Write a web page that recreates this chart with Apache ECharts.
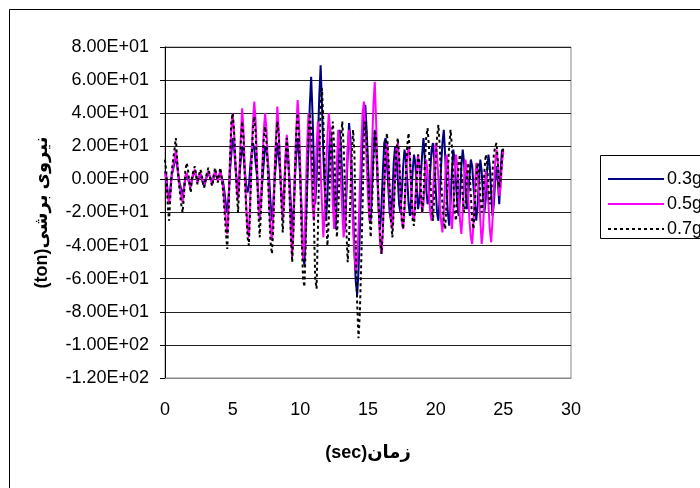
<!DOCTYPE html>
<html><head><meta charset="utf-8">
<script src="https://cdn.jsdelivr.net/npm/echarts@6/dist/echarts.min.js"></script>
<style>html,body{margin:0;padding:0;background:#fff}#c{width:700px;height:488px}</style>
</head><body><div id="c"></div>
<script>
// sample time step (s), samples start at t = 0
const tStep = 0.1;
const seriesNames = ['0.3g', '0.5g', '0.7g'];
const xTicks = [0, 5, 10, 15, 20, 25, 30];
const yTicks = [-120, -100, -80, -60, -40, -20, 0, 20, 40, 60, 80];

const v03 = [
5,2,-8,-12,-5,3,6,10,14,8,
2,-3,-6,-10,-5,0,3,2,-2,-4,
0,3,5,2,-1,1,3,2,-2,-4,
-1,2,4,3,0,-2,1,4,3,0,
2,4,1,-2,-8,-15,-20,-10,5,15,
25,20,8,0,-6,2,12,20,15,5,
-3,-8,-4,8,16,22,18,10,2,-10,
-20,-12,0,10,20,18,12,0,-14,-25,
-15,0,10,22,15,5,-8,-18,-5,10,
20,12,0,-15,-30,-18,0,15,25,15,
0,-20,-45,-52,-30,-5,20,45,62,40,
10,-15,0,25,50,69,45,15,-5,-25,
-10,10,30,25,5,-15,-30,-10,15,30,
20,0,-20,-30,-10,15,34,25,5,-20,
-45,-62,-70,-55,-30,0,25,40,45,30,
10,-10,-25,-5,15,30,20,0,-20,-30,
-15,5,22,25,10,-5,-20,-25,-10,10,
20,15,0,-15,-20,-8,8,18,12,0,
-15,-22,-10,5,15,10,-5,-18,-12,2,
15,25,12,-5,-15,-10,5,18,22,10,
-5,-20,-25,-10,8,22,30,15,-5,-20,
-28,-15,5,18,12,-2,-15,-22,-10,8,
18,10,-5,-18,-10,2,12,8,-5,-15,
-25,-15,0,12,5,-10,-20,-12,5,15,
8,-8,-22,-15,0,8,-2,-15,5,18,
15];

const v05 = [
4,0,-10,-15,-8,2,8,12,18,10,
0,-5,-10,-14,-6,2,4,1,-3,-5,
1,4,6,2,-2,1,4,3,-1,-3,
0,3,5,2,-1,-3,2,5,2,-1,
3,5,0,-5,-15,-25,-33,-15,10,30,
40,28,10,-5,-12,5,25,43,30,5,
-15,-30,-35,-10,15,35,47,35,10,-15,
-25,-10,10,30,40,30,10,-15,-30,-37,
-20,5,25,44,30,10,-10,-25,-10,15,
27,15,-5,-30,-47,-25,5,30,48,35,
5,-25,-48,-40,-10,20,40,30,10,-15,
-25,-5,20,35,25,5,-15,-35,-20,5,
25,40,30,10,-15,-30,-15,10,30,20,
0,-20,-35,-25,0,20,30,15,-10,-30,
-45,-55,-50,-30,-5,20,40,47,30,10,
-10,-25,-5,20,45,59,35,5,-20,-40,
-45,-30,-5,15,22,10,-10,-25,-30,-15,
5,18,22,10,-10,-25,-30,-18,0,15,
20,10,-8,-22,-25,-12,5,15,8,-10,
-20,-15,0,12,5,-8,-20,-25,-10,10,
22,15,0,-15,-25,-32,-20,0,15,10,
-5,-20,-30,-18,5,15,8,-10,-25,-33,
-20,0,12,5,-10,-25,-35,-39,-25,-5,
10,5,-10,-25,-39,-30,-10,5,0,-15,
-30,-38,-25,-5,10,18,10,-10,-5,10,
18];

const v07 = [
12,4,-15,-25,-10,5,12,18,25,12,
0,-8,-15,-20,-10,5,10,6,-2,-8,
2,5,8,3,-3,2,6,4,-2,-5,
0,4,7,3,-2,-4,3,7,3,-2,
4,7,0,-8,-20,-32,-42,-20,12,35,
40,30,12,-8,-20,0,22,35,25,0,
-18,-35,-40,-15,12,30,38,28,5,-20,
-35,-18,5,25,32,22,5,-20,-38,-45,
-30,0,22,35,28,8,-15,-32,-15,10,
25,15,-8,-35,-50,-30,5,28,40,25,
0,-35,-60,-65,-40,-5,25,40,30,5,
-25,-60,-66,-30,10,45,55,35,5,-20,
-40,-25,5,25,35,20,-10,-35,-20,5,
25,35,20,-5,-30,-50,-35,-10,15,30,
15,-40,-75,-96,-80,-50,-15,20,35,25,
5,-20,-35,-15,10,30,25,5,-20,-35,
-45,-30,-5,20,28,15,-5,-25,-35,-20,
0,18,25,15,-8,-25,-30,-15,5,20,
28,15,-5,-25,-28,-15,0,15,10,-5,
-20,-10,10,25,31,20,0,-15,-25,-10,
10,25,33,20,0,-15,-25,-30,-15,5,
20,30,20,0,-20,-25,-10,10,15,5,
-10,-20,-15,0,10,5,-10,-25,-30,-15,
0,10,5,-10,-20,-12,5,15,10,-5,
-15,-10,5,15,20,22,10,-5,0,12,
20];

function pairs(arr){ return arr.map((v,i)=>[+(i*tStep).toFixed(2), v]); }
function sci(v){
  if (v === 0) return '0.00E+00';
  const e = Math.floor(Math.log10(Math.abs(v)));
  const m = v / Math.pow(10, e);
  return m.toFixed(2) + 'E' + (e < 0 ? '-' : '+') + String(Math.abs(e)).padStart(2,'0');
}
const FF = '"Liberation Sans", Arial, "DejaVu Sans", sans-serif';

const chart = echarts.init(document.getElementById('c'), null, {renderer:'canvas'});
chart.setOption({
  animation:false,
  backgroundColor:'#fff',
  textStyle:{fontFamily:FF},
  graphic:[
    {type:'rect', shape:{x:9.5,y:9.5,width:720,height:500}, style:{fill:'none',stroke:'#000',lineWidth:1}, silent:true},
    {type:'rect', shape:{x:600.5,y:155.5,width:130,height:83}, style:{fill:'#fff',stroke:'#000',lineWidth:1}, silent:true, z:0}
  ],
  grid:{left:165, top:47, right:129, bottom:110, show:true, borderColor:'#888', borderWidth:1, backgroundColor:'transparent'},
  legend:{
    orient:'vertical', left:602, top:165, itemWidth:56, itemHeight:14, itemGap:7,
    data:seriesNames, itemStyle:{opacity:0},
    textStyle:{fontSize:18, color:'#000', fontFamily:FF, padding:[0,0,0,-2]},
    z:5
  },
  xAxis:{
    type:'value', min:xTicks[0], max:xTicks[xTicks.length-1], interval:5,
    axisLine:{show:true, onZero:false, lineStyle:{color:'#888'}},
    axisTick:{show:false},
    splitLine:{show:false},
    axisLabel:{fontSize:18, color:'#000', margin:23, fontFamily:FF},
    name:'(sec)زمان', nameLocation:'middle', nameGap:66,
    nameTextStyle:{fontSize:18, fontWeight:'bold', color:'#000', fontFamily:FF}
  },
  yAxis:{
    type:'value', min:yTicks[0], max:yTicks[yTicks.length-1], interval:20,
    axisLine:{show:true, lineStyle:{color:'#000', width:1}},
    axisTick:{show:true, inside:false, length:5, lineStyle:{color:'#000'}},
    splitLine:{show:true, lineStyle:{color:'#222', width:1}},
    axisLabel:{fontSize:18, color:'#000', margin:16, fontFamily:FF, formatter:sci},
    name:'(ton)نیروی برشی', nameLocation:'middle', nameGap:114, nameRotate:90,
    nameTextStyle:{fontSize:18, fontWeight:'bold', color:'#000', fontFamily:FF}
  },
  series:[
    {name:seriesNames[0], type:'line', data:pairs(v03), symbol:'none', lineStyle:{color:'#000080', width:2}, itemStyle:{color:'#000080'}},
    {name:seriesNames[1], type:'line', data:pairs(v05), symbol:'none', lineStyle:{color:'#FF00FF', width:2}, itemStyle:{color:'#FF00FF'}},
    {name:seriesNames[2], type:'line', data:pairs(v07), symbol:'none', lineStyle:{color:'#000', width:2, type:[3,3]}, itemStyle:{color:'#000'}}
  ]
});
</script></body></html>
